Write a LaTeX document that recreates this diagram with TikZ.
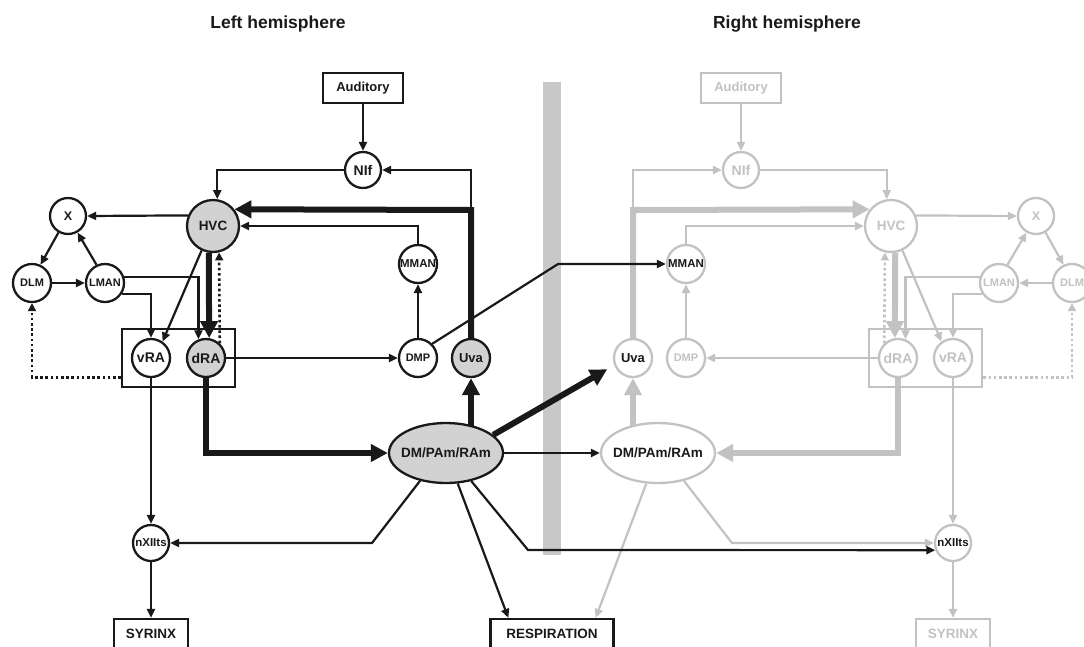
\documentclass[tikz,border=0pt]{standalone}
\usepackage{fontspec}
\setmainfont{Liberation Sans}
\usetikzlibrary{arrows.meta,shapes.geometric,fit,calc}
\pgfdeclarelayer{barlayer}
\pgfdeclarelayer{edgelayer}
\pgfsetlayers{barlayer,edgelayer,main}
\definecolor{lfill}{RGB}{210,210,210}
\definecolor{rgray}{RGB}{194,194,194}
\definecolor{bargray}{RGB}{200,200,200}
\definecolor{ink}{RGB}{25,25,25}
\newcommand{\myfs}[1]{\fontsize{#1}{#1}\selectfont\bfseries}
\begin{document}
\begin{tikzpicture}[x=1pt,y=-1pt,
 lc/.style={circle,draw=ink,line width=2.3pt,fill=white,inner sep=0pt,minimum size=#1,text=ink},
 lcg/.style={lc=#1,fill=lfill},
 rc/.style={circle,draw=rgray,line width=2.3pt,fill=white,inner sep=0pt,minimum size=#1,text=rgray},
 rck/.style={rc=#1,text=ink},
 lbx/.style={rectangle,draw=ink,line width=2.3pt,fill=white,inner sep=0pt,text=ink},
 rbx/.style={rectangle,draw=rgray,line width=2.3pt,fill=white,inner sep=0pt,text=rgray},
 ell/.style={ellipse,line width=2.3pt,inner sep=0pt,minimum width=114pt,minimum height=60pt,text=ink,font=\myfs{13.5}},
 ln/.style={line width=2.2pt,-{Triangle[length=9pt,width=8pt]}},
 tk/.style={line width=6pt,-{Triangle[length=17pt,width=17pt]}},
 dt/.style={line width=2.6pt,dash pattern=on 2.6pt off 2.6pt,-{Triangle[length=8pt,width=8pt]}},
 ttl/.style={font=\myfs{17.5},text=ink},
]
\useasboundingbox (0,0) rectangle (1084,646);
\clip (0,0) rectangle (1084,646);

% titles
\node[ttl] (ltitle) at (278,24) {Left hemisphere};
\node[ttl] (rtitle) at (787,24) {Right hemisphere};

% midline bar
\begin{pgfonlayer}{barlayer}
\fill[bargray] (543,82) rectangle (561,555);
\end{pgfonlayer}

% ---------- left hemisphere nodes ----------
\node[lbx,minimum width=80pt,minimum height=30pt,font=\myfs{13}] (aud) at (363,88) {Auditory};
\node[lc=36pt,font=\myfs{14}] (nif) at (363,170) {NIf};
\node[lcg=52pt,font=\myfs{13.5}] (hvc) at (213,226) {HVC};
\node[lc=36pt,font=\myfs{12.5}] (x) at (68,216) {X};
\node[lc=38pt,font=\myfs{11}] (dlm) at (32,283) {DLM};
\node[lc=38pt,font=\myfs{11}] (lman) at (105,283) {\makebox[0pt]{LMAN}};
\node[lc=38pt,font=\myfs{14}] (vra) at (151,358) {vRA};
\node[lcg=38pt,font=\myfs{14}] (dra) at (206,358) {dRA};
\node[draw=ink,line width=2.3pt,inner xsep=9pt,inner ysep=9pt,fit=(vra)(dra)] (lbox) {};
\node[lc=38pt,font=\myfs{11.5}] (mman) at (418,264) {\makebox[0pt]{MMAN}};
\node[lc=38pt,font=\myfs{11}] (dmp) at (418,358) {DMP};
\node[lcg=38pt,font=\myfs{13}] (uva) at (471,358) {Uva};
\node[ell,draw=ink,fill=lfill] (dm) at (446,453) {\makebox[0pt]{DM/PAm/RAm}};
\node[lc=36pt,font=\myfs{11.5}] (nx) at (151,543) {\makebox[0pt]{nXIIts}};
\node[lbx,minimum width=74pt,minimum height=30pt,font=\myfs{13.5}] (syr) at (151,634) {SYRINX};
\node[lbx,minimum width=123pt,minimum height=30pt,font=\myfs{13.5}] (resp) at (552,634) {RESPIRATION};

% ---------- right hemisphere nodes ----------
\node[rbx,minimum width=80pt,minimum height=30pt,font=\myfs{13}] (raud) at (741,88) {Auditory};
\node[rc=36pt,font=\myfs{14}] (rnif) at (741,170) {NIf};
\node[rc=52pt,font=\myfs{13.5}] (rhvc) at (891,226) {HVC};
\node[rc=36pt,font=\myfs{12.5}] (rx) at (1036,216) {X};
\node[rc=38pt,font=\myfs{11}] (rdlm) at (1072,283) {DLM};
\node[rc=38pt,font=\myfs{11}] (rlman) at (999,283) {\makebox[0pt]{LMAN}};
\node[rc=38pt,font=\myfs{14}] (rvra) at (953,358) {vRA};
\node[rc=38pt,font=\myfs{14}] (rdra) at (898,358) {dRA};
\node[draw=rgray,line width=2.3pt,inner xsep=9pt,inner ysep=9pt,fit=(rvra)(rdra)] (rbox) {};
\node[rck=38pt,font=\myfs{11.5}] (rmman) at (686,264) {\makebox[0pt]{MMAN}};
\node[rc=38pt,font=\myfs{11}] (rdmp) at (686,358) {DMP};
\node[rck=38pt,font=\myfs{13}] (ruva) at (633,358) {Uva};
\node[ell,draw=rgray,fill=white] (rdm) at (658,453) {\makebox[0pt]{DM/PAm/RAm}};
\node[rck=36pt,font=\myfs{11.5}] (rnx) at (953,543) {\makebox[0pt]{nXIIts}};
\node[rbx,minimum width=74pt,minimum height=30pt,font=\myfs{13.5}] (rsyr) at (953,634) {SYRINX};

\begin{pgfonlayer}{edgelayer}
% ---------- right hemisphere connectors (grey) ----------
\begin{scope}[rgray]
\coordinate (ruvaT) at (633,210);
\draw[ln] (raud.south) -- (rnif.north);
\draw[ln] (rnif.east) -| (rhvc.99);
\draw[tk] (ruva.north) -- (ruvaT) -- (rhvc.142);
\draw[ln] (ruvaT) |- (rnif.west);
\draw[ln] (rmman.north) |- (rhvc.west);
\draw[ln] (rhvc.23) -- (rx.west);
\draw[ln] (rx.-60) -- (rdlm.115);
\draw[ln] (rlman.65) -- (rx.240);
\draw[ln] (rdlm.west) -- (rlman.east);
\draw[ln] (rlman.162) -| (rdra.68);
\draw[ln] (rlman.-148) -| (rvra.north);
\draw[ln] (rhvc.-65) -- (rvra.125);
\draw[tk] (rhvc.-81) -- (rdra.99);
\draw[dt] (rdra.133) -- (rhvc.-103);
\draw[ln] (rdra.west) -- (rdmp.east);
\draw[ln] (rdmp.north) -- (rmman.south);
\draw[dt] ($(rbox.south east)+(0,-11)$) -| (rdlm.south);
\draw[ln] (rvra.south) -- (rnx.north);
\draw[ln] (rnx.south) -- (rsyr.north);
\draw[tk] (rdra.south) |- (rdm.east);
\draw[tk] (ruva.south |- rdm.center) -- (ruva.south);
\draw[ln] (rdm.-47) -- (732,543) -- (rnx.west);
\draw[ln] (rdm.249) -- ($(resp.north east)+(-19,0)$);
\end{scope}

% ---------- left hemisphere connectors (black) ----------
\begin{scope}[ink]
\coordinate (uvaT) at (471,210);
\draw[ln] (aud.south) -- (nif.north);
\draw[ln] (nif.west) -| (hvc.81);
\draw[tk] (uva.north) -- (uvaT) -- (hvc.38);
\draw[ln] (uvaT) |- (nif.east);
\draw[ln] (mman.north) |- (hvc.east);
\draw[ln] (hvc.157) -- (x.east);
\draw[ln] (x.240) -- (dlm.65);
\draw[ln] (lman.115) -- (x.-60);
\draw[ln] (dlm.east) -- (lman.west);
\draw[ln] (lman.18) -| (dra.112);
\draw[ln] (lman.-32) -| (vra.north);
\draw[ln] (hvc.245) -- (vra.55);
\draw[tk] (hvc.261) -- (dra.81);
\draw[dt] (dra.47) -- (hvc.-77);
\draw[ln] (dra.east) -- (dmp.west);
\draw[ln] (dmp.north) -- (mman.south);
\draw[ln] (dmp.45) -- (558,264) -- (rmman.west);
\draw[dt] ($(lbox.south west)+(0,-11)$) -| (dlm.south);
\draw[ln] (vra.south) -- (nx.north);
\draw[ln] (nx.south) -- (syr.north);
\draw[tk] (dra.south) |- (dm.west);
\draw[tk] (uva.south |- dm.center) -- (uva.south);
\draw[tk,shorten >=8pt] (dm.21) -- (ruva.201);
\draw[ln] (dm.east) -- (rdm.west);
\draw[ln] (dm.227) -- (372,543) -- (nx.east);
\draw[ln] (dm.-48) -- (528,550) -- (rnx.202);
\draw[ln] (dm.-69) -- ($(resp.north west)+(19,0)$);
\end{scope}
\end{pgfonlayer}
\end{tikzpicture}
\end{document}
